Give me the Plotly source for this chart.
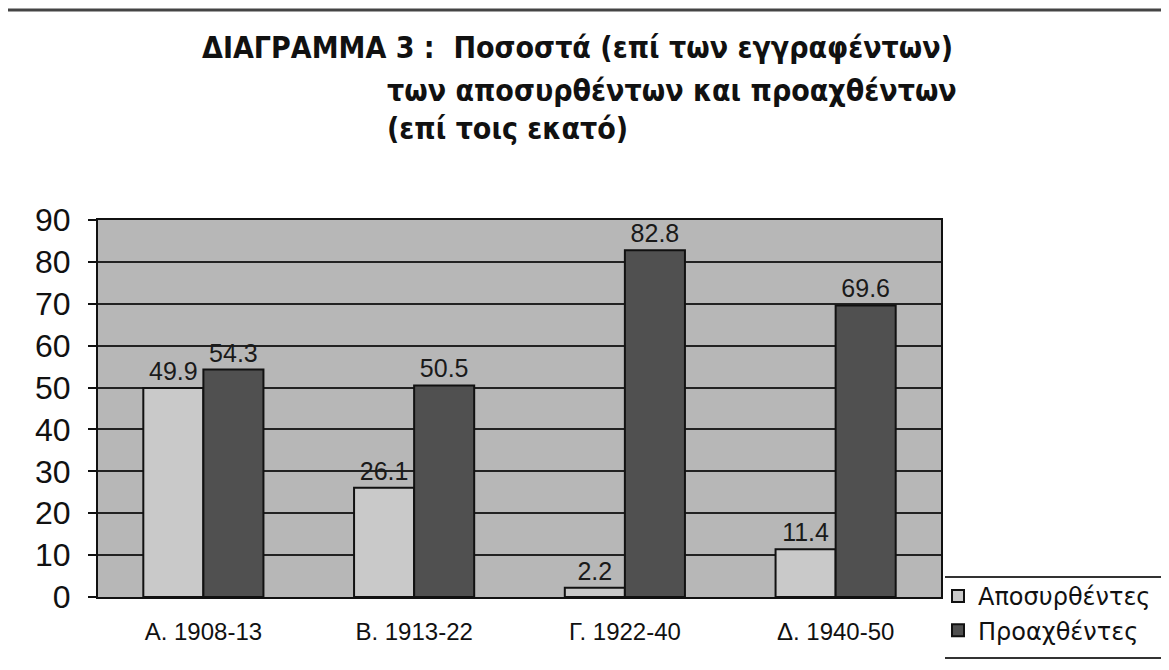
import plotly.graph_objects as go

categories = ["A. 1908-13", "B. 1913-22", "Γ. 1922-40", "Δ. 1940-50"]
withdrawn = [49.9, 26.1, 2.2, 11.4]
promoted = [54.3, 50.5, 82.8, 69.6]
series_names = ["Αποσυρθέντες", "Προαχθέντες"]
y_ticks = [0, 10, 20, 30, 40, 50, 60, 70, 80, 90]

# page has an 8px body margin; figure coordinates below are screen - 8
W, H = 1161, 662
PL, PR, PT, PB = 90, 933, 212, 589

def px(x):
    return (x - 8 - PL) / (PR - PL)

def py(y):
    return (PB - (y - 8)) / (PB - PT)

fig = go.Figure()
fig.add_trace(go.Bar(
    x=categories, y=withdrawn, name=series_names[0],
    marker=dict(color="#c9c9c9", line=dict(color="#111111", width=2)),
    text=[f"{v:.1f}" for v in withdrawn], textposition="outside",
    textfont=dict(size=25, color="#1a1a1a", family="Liberation Sans, Arial"),
    cliponaxis=False,
))
fig.add_trace(go.Bar(
    x=categories, y=promoted, name=series_names[1],
    marker=dict(color="#505050", line=dict(color="#111111", width=2)),
    text=[f"{v:.1f}" for v in promoted], textposition="outside",
    textfont=dict(size=25, color="#1a1a1a", family="Liberation Sans, Arial"),
    cliponaxis=False,
))

title_font = dict(family="DejaVu Sans Condensed, Liberation Sans", size=30, color="#111111")
title_lines = [
    ("<b>ΔΙΑΓΡΑΜΜΑ 3 :  Ποσοστά (επί των εγγραφέντων)</b>", 200, 48),
    ("<b>των αποσυρθέντων και προαχθέντων</b>", 385, 90),
    ("<b>(επί τοις εκατό)</b>", 385, 128),
]
ann_objs = []
for t, x, y in title_lines:
    ann_objs.append(dict(
        text=t, xref="paper", yref="paper", x=px(x), y=py(y),
        xanchor="left", yanchor="middle", showarrow=False, font=title_font,
    ))

fig.update_layout(
    width=W, height=H,
    margin=dict(l=PL, r=W - PR, t=PT, b=H - PB),
    paper_bgcolor="white",
    plot_bgcolor="#b7b7b7",
    barmode="group",
    bargap=0.43,
    bargroupgap=0.0,
    showlegend=True,
    legend=dict(
        x=px(938), y=py(574), xanchor="left", yanchor="top",
        font=dict(family="DejaVu Sans, Liberation Sans", size=24, color="#111111"),
        bgcolor="rgba(0,0,0,0)", tracegroupgap=0, itemwidth=30,
    ),
    annotations=ann_objs,
    shapes=[
        dict(type="line", xref="paper", yref="paper", x0=px(945), x1=px(1175),
             y0=py(577), y1=py(577), line=dict(color="#333333", width=2)),
        dict(type="line", xref="paper", yref="paper", x0=px(945), x1=px(1175),
             y0=py(658), y1=py(658), line=dict(color="#333333", width=2)),
        dict(type="line", xref="paper", yref="paper", x0=px(0), x1=px(1175),
             y0=py(10), y1=py(10), line=dict(color="#444444", width=3)),
    ],
    xaxis=dict(
        showline=True, linecolor="#111111", linewidth=2, mirror=True,
        tickfont=dict(family="Liberation Sans, Arial", size=24, color="#111111"),
        ticks="", showgrid=False, ticklabelstandoff=12,
    ),
    yaxis=dict(
        range=[0, 90], tickvals=y_ticks,
        showline=True, linecolor="#111111", linewidth=2, mirror=True,
        showgrid=True, gridcolor="#222222", gridwidth=1.5,
        ticks="outside", ticklen=8, tickcolor="#111111", tickwidth=1.5,
        tickfont=dict(family="Liberation Sans, Arial", size=32, color="#111111"),
        ticklabelstandoff=11,
        zeroline=False,
    ),
)

fig.write_html("out.html")
